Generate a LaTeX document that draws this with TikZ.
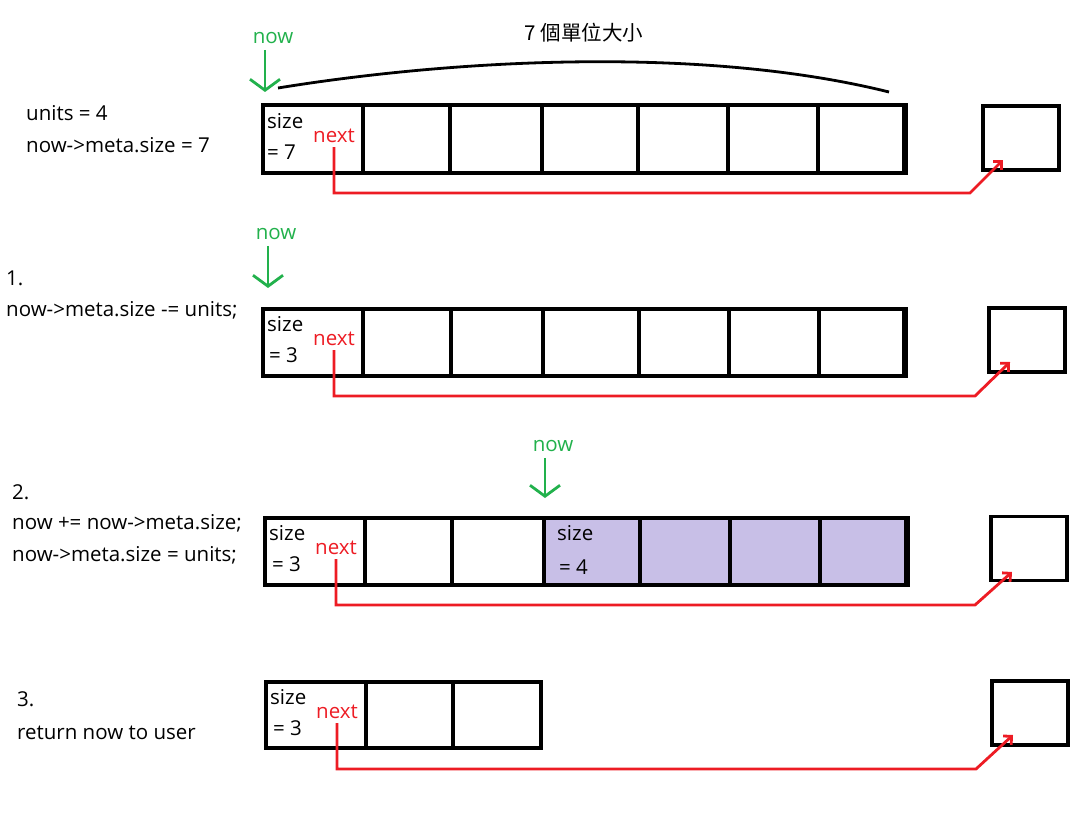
\documentclass[tikz,border=0pt]{standalone}
\usepackage{fontspec}
\setmainfont{Open Sans}
\newfontfamily\cjkfont{Noto Sans CJK TC}
\usetikzlibrary{arrows.meta}
\definecolor{paintgreen}{RGB}{34,177,76}
\definecolor{paintred}{RGB}{237,28,36}
\definecolor{lavender}{RGB}{200,191,231}
\begin{document}
\begin{tikzpicture}[x=1pt,y=-1pt,
    every node/.style={font=\fontsize{20.5}{24}\selectfont,inner sep=1pt},
    cellrow/.style={line width=3.8pt},
    blk/.style={draw,rectangle,line width=3.8pt,minimum width=76pt,minimum height=64pt},
    nowlbl/.style={text=paintgreen},
    nowarr/.style={draw=paintgreen,line width=2.8pt,shorten <=5pt,-{Straight Barb[length=11pt,width=30pt]}},
    nextlbl/.style={text=paintred},
    ptr/.style={draw=paintred,line width=2.8pt,shorten <=3pt,-{Straight Barb[length=6pt,width=12pt]}}]
    \useasboundingbox (0,0) rectangle (1092,813);
    % left side notes
    \node[anchor=west] (units) at (25,113) {units = 4};
    \node[anchor=west] (meta0) at (25,145) {now->meta.size = 7};
    \node[anchor=west] (step1) at (5,278) {1.};
    \node[anchor=west] (code1) at (5,310) {now->meta.size -= units;};
    \node[anchor=west] (step2) at (11,492) {2.};
    \node[anchor=west] (code2a) at (11,523) {now += now->meta.size;};
    \node[anchor=west] (code2b) at (11,555) {now->meta.size = units;};
    \node[anchor=west] (step3) at (16,699) {3.};
    \node[anchor=west] (code3) at (16,733) {return now to user};
    % row 0: the whole free block
    \draw[cellrow] (263,105) rectangle (906,173) (363,105) -- (363,173) (450,105) -- (450,173)
        (542,105) -- (542,173) (638,105) -- (638,173) (728,105) -- (728,173) (818,105) -- (818,173);
    \draw[line width=5.5pt] (905,104) -- (905,174);
    \node[anchor=west] (sz1) at (266,121) {size};
    \node[anchor=west] (eq1) at (266,152) {= 7};
    \node[nextlbl] (next1) at (334,136) {next};
    \node[blk] (blk1) at (1021,138) {};
    \coordinate (bend1) at (970,193);
    \coordinate (tip1) at (1003,160);
    \draw[ptr] (next1.south) |- (bend1) -- (tip1);
    \node[nowlbl] (now1) at (273,38) {now};
    \coordinate (hd1) at (265,92);
    \draw[nowarr] (now1.south -| hd1) -- (hd1);
    \coordinate (spanL) at (278,88);
    \coordinate (spanR) at (889,92);
    \draw[line width=2.8pt] (spanL) .. controls (450,60) and (700,45) .. (spanR);
    \node (span) at (584,33) {\cjkfont 7 個單位大小};
    % row 1
    \draw[cellrow] (263,309) rectangle (906,376) (363,309) -- (363,376) (451,309) -- (451,376)
        (543,309) -- (543,376) (639,309) -- (639,376) (729,309) -- (729,376) (819,309) -- (819,376);
    \draw[line width=5.5pt] (905,308) -- (905,377);
    \node[anchor=west] (sz2) at (266,324) {size};
    \node[anchor=west] (eq2) at (268,355) {= 3};
    \node[nextlbl] (next2) at (334,339) {next};
    \node[blk] (blk2) at (1027,340) {};
    \coordinate (bend2) at (975,396);
    \coordinate (tip2) at (1010,362);
    \draw[ptr] (next2.south) |- (bend2) -- (tip2);
    \node[nowlbl] (now2) at (276,234) {now};
    \coordinate (hd2) at (268,288);
    \draw[nowarr] (now2.south -| hd2) -- (hd2);
    % row 2
    \fill[lavender] (544,518) rectangle (908,585);
    \draw[cellrow] (265,518) rectangle (908,585) (365,518) -- (365,585) (452,518) -- (452,585)
        (544,518) -- (544,585) (640,518) -- (640,585) (730,518) -- (730,585) (820,518) -- (820,585);
    \draw[line width=5.5pt] (907,517) -- (907,586);
    \node[anchor=west] (sz3) at (268,533) {size};
    \node[anchor=west] (eq3) at (271,564) {= 3};
    \node[nextlbl] (next3) at (336,548) {next};
    \node[anchor=west] (sz4) at (556,533) {size};
    \node[anchor=west] (eq4) at (558,567) {= 4};
    \node[blk] (blk3) at (1029,548.5) {};
    \coordinate (bend3) at (975,605);
    \coordinate (tip3) at (1012,572);
    \draw[ptr] (next3.south) |- (bend3) -- (tip3);
    \node[nowlbl] (now3) at (553,446) {now};
    \coordinate (hd3) at (545,498);
    \draw[nowarr] (now3.south -| hd3) -- (hd3);
    % row 3
    \draw[cellrow] (266,682) rectangle (541,748) (366,682) -- (366,748) (453,682) -- (453,748);
    \node[anchor=west] (sz5) at (269,697) {size};
    \node[anchor=west] (eq5) at (272,728) {= 3};
    \node[nextlbl] (next4) at (337,712) {next};
    \node[blk] (blk4) at (1030,713) {};
    \coordinate (bend4) at (976,769);
    \coordinate (tip4) at (1013,735);
    \draw[ptr] (next4.south) |- (bend4) -- (tip4);
\end{tikzpicture}
\end{document}
